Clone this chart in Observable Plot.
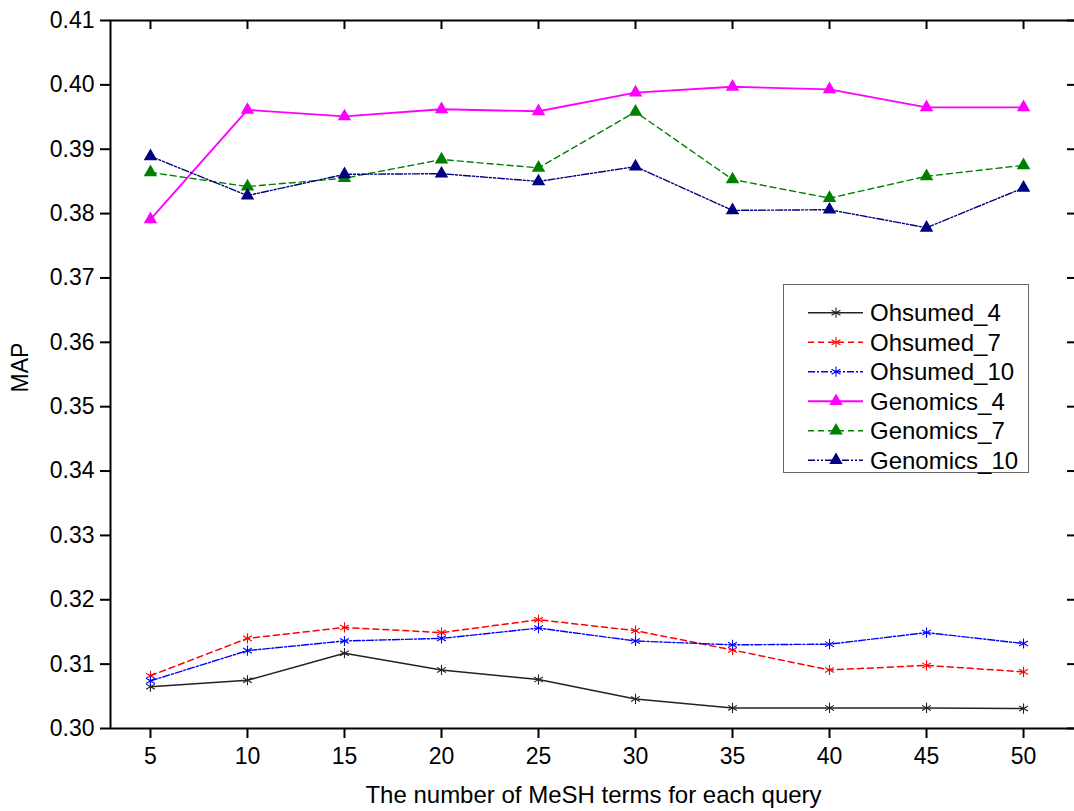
<!DOCTYPE html>
<html><head><meta charset="utf-8">
<script src="https://cdn.jsdelivr.net/npm/d3@7"></script>
<script src="https://cdn.jsdelivr.net/npm/@observablehq/plot@0.6"></script>
<style>
body{margin:0;background:#fff;overflow:hidden;font-family:"Liberation Sans",Arial,sans-serif;}
#wrap{position:relative;width:1074px;height:811px;overflow:hidden;background:#fff;}
#wrap > svg{max-width:none !important;display:block;}
#legend{position:absolute;left:783px;top:284px;width:244px;height:187px;border:1.5px solid #666;background:#fff;}
#legend svg{overflow:visible;}
</style></head><body><div id="wrap"></div>
<script>
// ---- data ----
const xValues = [5, 10, 15, 20, 25, 30, 35, 40, 45, 50];
const seriesNames = ["Ohsumed_4", "Ohsumed_7", "Ohsumed_10", "Genomics_4", "Genomics_7", "Genomics_10"];
const ohsumed4  = [0.3065, 0.3075, 0.3117, 0.3091, 0.3076, 0.3046, 0.3032, 0.3032, 0.3032, 0.3031];
const ohsumed7  = [0.3082, 0.3140, 0.3157, 0.3149, 0.3169, 0.3152, 0.3122, 0.3091, 0.3098, 0.3088];
const ohsumed10 = [0.3074, 0.3121, 0.3136, 0.3140, 0.3156, 0.3136, 0.3130, 0.3131, 0.3149, 0.3132];
const genomics4 = [0.3791, 0.3961, 0.3951, 0.3962, 0.3959, 0.3988, 0.3997, 0.3993, 0.3965, 0.3965];
const genomics7 = [0.3864, 0.3842, 0.3855, 0.3884, 0.3871, 0.3958, 0.3853, 0.3824, 0.3858, 0.3875];
const genomics10= [0.3889, 0.3828, 0.3861, 0.3862, 0.3850, 0.3873, 0.3805, 0.3806, 0.3778, 0.3840];
const seriesValues = [ohsumed4, ohsumed7, ohsumed10, genomics4, genomics7, genomics10];
const yTicks = [0.30, 0.31, 0.32, 0.33, 0.34, 0.35, 0.36, 0.37, 0.38, 0.39, 0.40, 0.41];
const xTicks = [5, 10, 15, 20, 25, 30, 35, 40, 45, 50];
const xTitle = "The number of MeSH terms for each query";
const yTitle = "MAP";

// ---- styles ----
const seriesColors = ["#222222", "#ff0000", "#0000ff", "#ff00ff", "#008000", "#000080"];
const seriesDash = [null, "6,4", "7,2,2,2", null, "6,4", "7,2,2,2,2,2"];
const seriesWidths = [1.5, 1.5, 1.4, 1.9, 1.4, 1.4];
const seriesSymbols = ["asterisk", "asterisk", "asterisk", "triangle", "triangle", "triangle"];

const table = [];
seriesNames.forEach((name, i) => {
  seriesValues[i].forEach((v, j) => table.push({series: name, x: xValues[j], y: v}));
});

const W = 1080, H = 811, ML = 110, MR = 4, MT = 20, MB = 83;
const FONT = "'Liberation Sans', Arial, sans-serif";
const marks = [];
seriesNames.forEach((name, i) => {
  const d = table.filter(r => r.series === name);
  marks.push(Plot.line(d, {x: "x", y: "y", stroke: seriesColors[i], strokeWidth: seriesWidths[i], strokeDasharray: seriesDash[i]}));
});
seriesNames.forEach((name, i) => {
  const d = table.filter(r => r.series === name);
  if (seriesSymbols[i] === "asterisk") {
    marks.push(Plot.dot(d, {x: "x", y: "y", symbol: "asterisk", r: 4.8, stroke: seriesColors[i], strokeWidth: 1.1}));
  } else {
    marks.push(Plot.dot(d, {x: "x", y: "y", symbol: "triangle", r: 5, fill: seriesColors[i], stroke: "none"}));
  }
});

const innerW = W - ML - MR, innerH = H - MT - MB;
const chart = Plot.plot({
  width: W,
  height: H,
  marginLeft: ML,
  marginRight: MR,
  marginTop: MT,
  marginBottom: MB,
  style: {fontFamily: FONT, fontSize: "23px", background: "white", color: "black", maxWidth: "none"},
  x: {domain: [2.94, 52.73], label: null},
  y: {domain: [0.30, 0.41], label: null},
  marks: [
    ...marks,
    Plot.axisY(yTicks, {anchor: "left", tickSize: 10, tickPadding: 6, tickFormat: d3.format(".2f"), fontSize: 23, strokeWidth: 2, label: null}),
    Plot.axisX(xTicks, {anchor: "bottom", tickSize: 10, tickPadding: 9, fontSize: 23, strokeWidth: 2, label: null}),
    // inward mirror ticks on top and right edges
    Plot.tickX(xTicks, {x: d => d, insetBottom: innerH - 9, stroke: "black", strokeWidth: 2}),
    Plot.tickY(yTicks, {y: d => d, insetLeft: innerW - 9, stroke: "black", strokeWidth: 2}),
    Plot.frame({stroke: "black", strokeWidth: 2}),
    Plot.text([xTitle], {frameAnchor: "bottom", dy: 67, fontSize: 24, lineAnchor: "middle", fill: "black"}),
    Plot.text([yTitle], {frameAnchor: "left", dx: -90, dy: 18, rotate: -90, fontSize: 23, lineAnchor: "middle", fill: "black"})
  ]
});
const wrap = document.getElementById("wrap");
wrap.appendChild(chart);

// ---- legend ----
const legend = document.createElement("div");
legend.id = "legend";
wrap.appendChild(legend);
const lsvg = d3.select(legend).append("svg").attr("width", 244).attr("height", 187);
const symbolMap = {asterisk: d3.symbolAsterisk, triangle: d3.symbolTriangle};
seriesNames.forEach((name, i) => {
  const cy = 27.7 + i * 29.5;
  const g = lsvg.append("g").attr("transform", `translate(0,${cy})`);
  g.append("line").attr("x1", 24).attr("x2", 79).attr("y1", 0).attr("y2", 0)
    .attr("stroke", seriesColors[i]).attr("stroke-width", seriesWidths[i])
    .attr("stroke-dasharray", seriesDash[i]);
  const isAst = seriesSymbols[i] === "asterisk";
  g.append("path").attr("transform", "translate(52,0)")
    .attr("d", d3.symbol(symbolMap[seriesSymbols[i]], Math.PI * (isAst ? 4.8 : 5) ** 2)())
    .attr("fill", isAst ? "none" : seriesColors[i])
    .attr("stroke", isAst ? seriesColors[i] : "none")
    .attr("stroke-width", 1.1);
  g.append("text").attr("x", 86).attr("y", 0).attr("dy", "0.35em")
    .attr("font-family", FONT).attr("font-size", 24).attr("fill", "black")
    .text(name);
});
</script>
</body></html>
